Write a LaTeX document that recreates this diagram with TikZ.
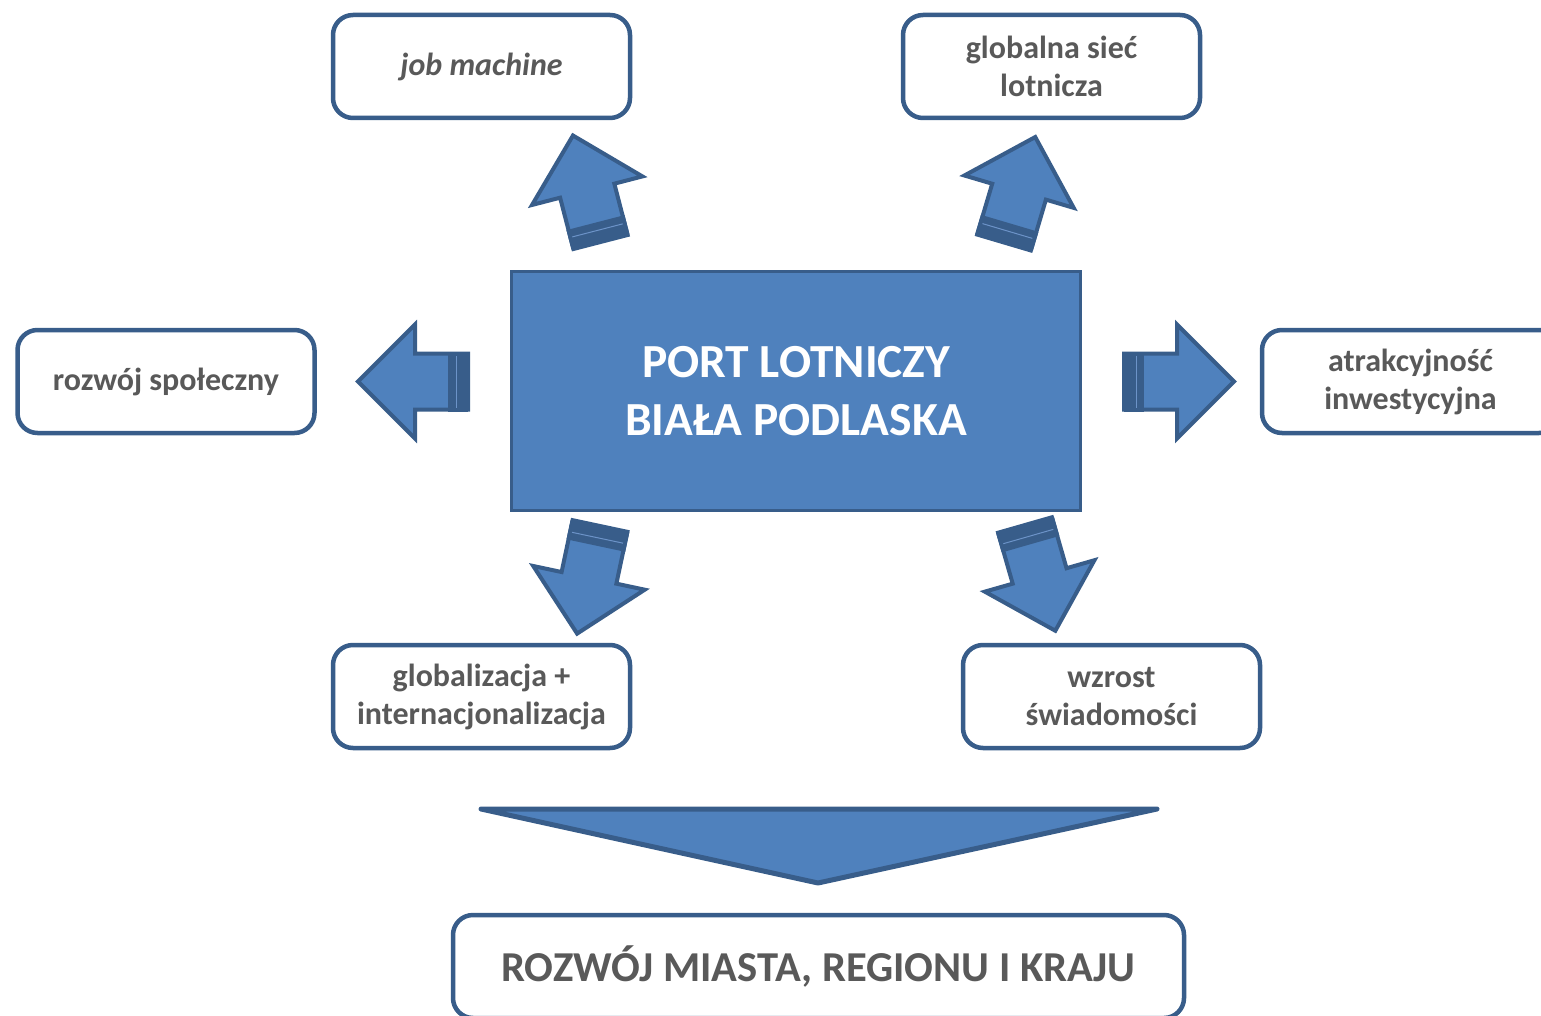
\documentclass[tikz,border=0pt]{standalone}
\usepackage{fontspec}
\setmainfont{Carlito}
\definecolor{fillblue}{HTML}{4F81BD}
\definecolor{edgeblue}{HTML}{385D8A}
\definecolor{txtgray}{HTML}{595959}
\definecolor{stripeline}{HTML}{6C93C8}
\begin{document}
\begin{tikzpicture}[x=1pt,y=-1pt,
  box/.style={draw=edgeblue, line width=4.5pt, rounded corners=20pt, fill=white,
    minimum width=297pt, minimum height=103pt, text=txtgray,
    font=\fontsize{32}{38}\selectfont\bfseries, align=center, inner sep=0pt},
  blockarrow/.style={fill=fillblue, draw=edgeblue, line width=4pt, line join=miter},
  sarrow/.pic={
    \draw[blockarrow] (0,-28) -- (53,-28) -- (53,-57) -- (110,0) -- (53,57) -- (53,28) -- (0,28) -- cycle;
    \fill[edgeblue] (0,-30) rectangle (20,30);
    \draw[stripeline, line width=1pt] (12,-26) -- (12,26);
  }
]
\useasboundingbox (0,0) rectangle (1541,1016);

% central node
\node[draw=edgeblue, fill=fillblue, line width=3pt, minimum width=569pt, minimum height=239pt,
  text=white, font=\fontsize{47.5}{58}\selectfont\bfseries, align=center, inner sep=0pt]
  (port) at (796,391) {PORT LOTNICZY\\BIAŁA PODLASKA};

% boxes
\node[box] (job) at (481.5,66.5) {\itshape job machine};
\node[box] (glob) at (1051.5,66.5) {globalna sieć\\lotnicza};
\node[box] (spol) at (166,381.5) {rozwój społeczny};
\node[box] (atr) at (1410.5,381.5) {atrakcyjność\\inwestycyjna};
\node[box] (globz) at (481.5,696.5) {globalizacja +\\internacjonalizacja};
\node[box] (wzr) at (1111.5,696.5) {wzrost\\świadomości};
\node[box, minimum width=731pt, font=\fontsize{42.6}{50}\selectfont\bfseries] (roz) at (818.5,966.5)
  {ROZWÓJ MIASTA, REGIONU I KRAJU};

% striped block arrows
\pic[rotate=104.5] at (600.5,242) {sarrow};
\pic[rotate=73.5] at (1004,242.5) {sarrow};
\pic[rotate=180] at (468,381.5) {sarrow};
\pic[rotate=0] at (1124,381.5) {sarrow};
\pic[rotate=258] at (600,526) {sarrow};
\pic[rotate=286] at (1025,525) {sarrow};

% big triangle
\draw[fill=fillblue, draw=edgeblue, line width=5pt, line join=round, line cap=round]
  (481,809) -- (1157,809) -- (818,883) -- cycle;
\end{tikzpicture}
\end{document}
